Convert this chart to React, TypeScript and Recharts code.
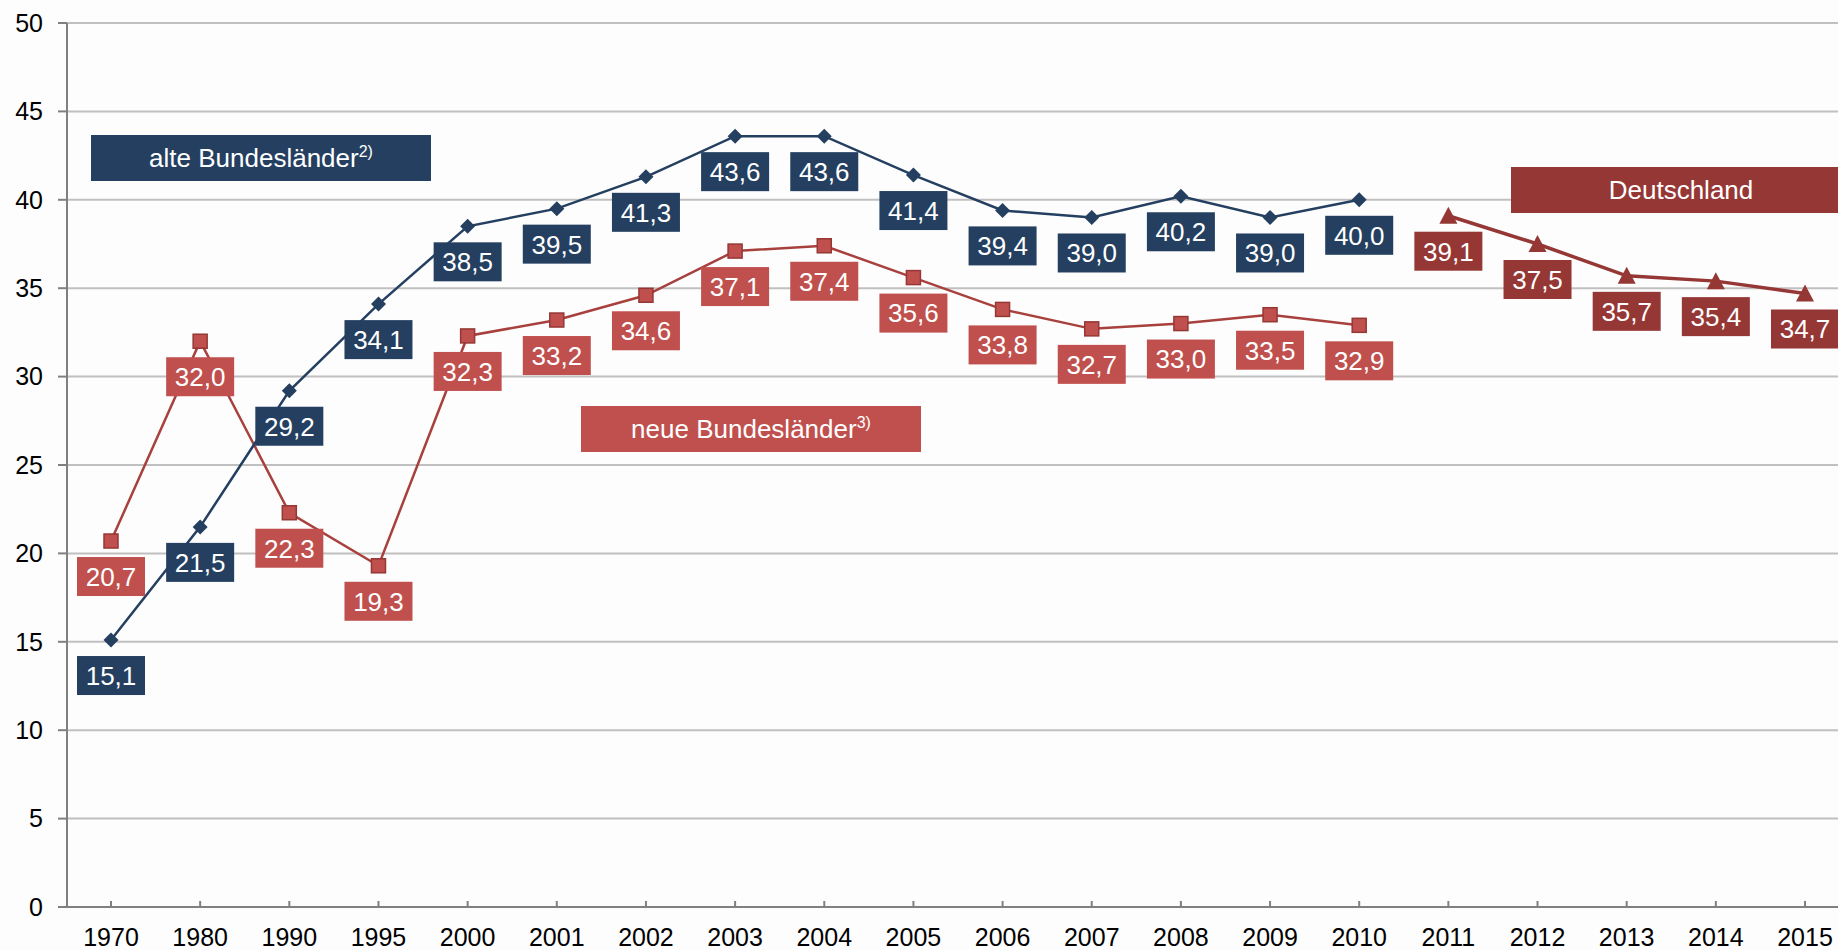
import React from "react";
import { CartesianGrid, Customized, LabelList, Line, LineChart, XAxis, YAxis } from "recharts";

const years = [
  "1970", "1980", "1990", "1995", "2000", "2001", "2002", "2003", "2004", "2005",
  "2006", "2007", "2008", "2009", "2010", "2011", "2012", "2013", "2014", "2015"
];

// alte Bundesländer (1970–2010)
const alteValues = [15.1, 21.5, 29.2, 34.1, 38.5, 39.5, 41.3, 43.6, 43.6, 41.4, 39.4, 39.0, 40.2, 39.0, 40.0];
// neue Bundesländer (1970–2010)
const neueValues = [20.7, 32.0, 22.3, 19.3, 32.3, 33.2, 34.6, 37.1, 37.4, 35.6, 33.8, 32.7, 33.0, 33.5, 32.9];
// Deutschland (2011–2015)
const deutschlandValues = [39.1, 37.5, 35.7, 35.4, 34.7];

const yTicks = [0, 5, 10, 15, 20, 25, 30, 35, 40, 45, 50];

const BLUE = "#243F60";
const RED = "#C0504D";
const RED_LINE = "#A8403D";
const DARK_RED = "#953735";
const FONT = "'Liberation Sans', Arial, sans-serif";

const data = years.map((year, i) => ({
  year,
  alte: i < alteValues.length ? alteValues[i] : null,
  neue: i < neueValues.length ? neueValues[i] : null,
  deutschland: i >= alteValues.length ? deutschlandValues[i - alteValues.length] : null
}));

const fmt = (v: number) => v.toFixed(1).replace(".", ",");

const boxLabel = (color: string) => (props: any) => {
  const { x, y, value } = props;
  if (value == null || x == null || y == null) return null;
  return (
    <g>
      <rect x={x - 34} y={y + 16} width={68} height={39} fill={color} />
      <text x={x} y={y + 35.5} dy="0.36em" textAnchor="middle" fill="#fff" fontSize={26} fontFamily={FONT}>
        {fmt(Number(value))}
      </text>
    </g>
  );
};

const Diamond = (props: any) => {
  const { cx, cy, index } = props;
  if (cx == null || cy == null || props.value == null) return <g key={index} />;
  return <path key={index} d={`M${cx},${cy - 7.5} L${cx + 7.5},${cy} L${cx},${cy + 7.5} L${cx - 7.5},${cy} Z`} fill={BLUE} />;
};

const Square = (props: any) => {
  const { cx, cy, index } = props;
  if (cx == null || cy == null || props.value == null) return <g key={index} />;
  return <rect key={index} x={cx - 7} y={cy - 7} width={14} height={14} fill={RED} stroke={DARK_RED} strokeWidth={1.5} />;
};

const Triangle = (props: any) => {
  const { cx, cy, index } = props;
  if (cx == null || cy == null || props.value == null) return <g key={index} />;
  return <path key={index} d={`M${cx},${cy - 9} L${cx + 9},${cy + 8} L${cx - 9},${cy + 8} Z`} fill={DARK_RED} />;
};

const Annotations = () => (
  <g fontFamily={FONT} fill="#fff">
    <rect x={91} y={135} width={340} height={46} fill={BLUE} />
    <text x={261} y={158} dy="0.36em" textAnchor="middle" fontSize={26} fill="#fff">
      alte Bundesländer
      <tspan fontSize={16} dy={-10}>2)</tspan>
    </text>
    <rect x={581} y={406} width={340} height={46} fill={RED} />
    <text x={751} y={429} dy="0.36em" textAnchor="middle" fontSize={26} fill="#fff">
      neue Bundesländer
      <tspan fontSize={16} dy={-10}>3)</tspan>
    </text>
    <rect x={1511} y={167} width={340} height={46} fill={DARK_RED} />
    <text x={1681} y={190} dy="0.36em" textAnchor="middle" fontSize={26} fill="#fff">
      Deutschland
    </text>
  </g>
);

export default function App() {
  return (
    <div style={{ position: "absolute", left: 0, top: 0, width: 1838, height: 950, background: "#fdfdfd" }}>
      <LineChart width={1838} height={950} data={data} margin={{ top: 23, right: 0, left: 0, bottom: 0 }}>
        <CartesianGrid vertical={false} stroke="#c0c0c0" strokeWidth={2} />
        <XAxis
          dataKey="year"
          height={43}
          padding={{ left: 44, right: 33 }}
          tickSize={-6}
          tickMargin={27}
          interval={0}
          axisLine={{ stroke: "#808080", strokeWidth: 2 }}
          tickLine={{ stroke: "#808080", strokeWidth: 2 }}
          tick={{ fill: "#000", fontSize: 25, fontFamily: FONT }}
        />
        <YAxis
          width={67}
          domain={[0, 50]}
          ticks={yTicks}
          interval={0}
          tickSize={9}
          tickMargin={15}
          axisLine={{ stroke: "#808080", strokeWidth: 2 }}
          tickLine={{ stroke: "#808080", strokeWidth: 2 }}
          tick={{ fill: "#000", fontSize: 25, fontFamily: FONT }}
        />
        <Customized component={<Annotations />} />
        <Line dataKey="neue" stroke={RED_LINE} strokeWidth={2.5} dot={Square} activeDot={false} isAnimationActive={false} />
        <Line dataKey="alte" stroke={BLUE} strokeWidth={2.5} dot={Diamond} activeDot={false} isAnimationActive={false} />
        <Line dataKey="deutschland" stroke={DARK_RED} strokeWidth={3.5} dot={Triangle} activeDot={false} isAnimationActive={false} />
        <Line dataKey="neue" stroke="none" dot={false} activeDot={false} isAnimationActive={false}>
          <LabelList dataKey="neue" content={boxLabel(RED)} />
        </Line>
        <Line dataKey="alte" stroke="none" dot={false} activeDot={false} isAnimationActive={false}>
          <LabelList dataKey="alte" content={boxLabel(BLUE)} />
        </Line>
        <Line dataKey="deutschland" stroke="none" dot={false} activeDot={false} isAnimationActive={false}>
          <LabelList dataKey="deutschland" content={boxLabel(DARK_RED)} />
        </Line>
      </LineChart>
    </div>
  );
}
